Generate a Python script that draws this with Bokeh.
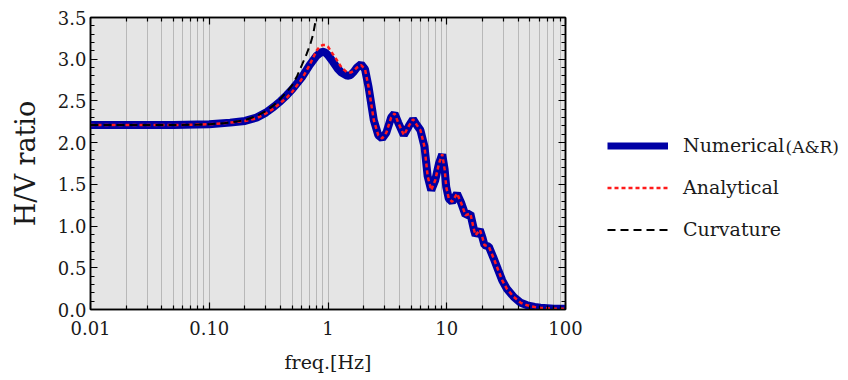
from bokeh.plotting import figure
from bokeh.layouts import row
from bokeh.models import (FixedTicker, LogAxis, LinearAxis, Legend, LegendItem, Label, Range1d)
from bokeh.embed import file_html
from bokeh.resources import INLINE

# ---------------- data ----------------
freq = [0.01, 0.02, 0.05, 0.1, 0.15, 0.2, 0.25, 0.3, 0.35, 0.4, 0.45, 0.5, 0.6, 0.7, 0.8, 0.85,
        0.9, 0.95, 1.0, 1.1, 1.2, 1.3, 1.45, 1.55, 1.65, 1.75, 1.9, 2.05, 2.2, 2.43, 2.65, 2.86,
        3.1, 3.4, 3.63, 3.9, 4.35, 4.8, 5.2, 5.6, 6.0, 6.5, 6.9, 7.4, 8.0, 8.6, 9.16, 9.6, 9.9,
        10.4, 11.1, 12.2, 13.2, 14.4, 15.8, 17.0, 17.5, 19.0, 20.0, 20.8, 22.6, 24.9,
        27.0, 29.3, 32.0, 36.7, 42.0, 47.6, 55.0, 61.5, 80.0, 100.0]

numerical = [2.21, 2.21, 2.21, 2.22, 2.24, 2.26, 2.30, 2.36, 2.43, 2.50, 2.57, 2.64, 2.78, 2.93, 3.04, 3.07,
             3.09, 3.08, 3.05, 2.97, 2.89, 2.84, 2.80, 2.81, 2.85, 2.90, 2.94, 2.88, 2.66, 2.27, 2.09, 2.05,
             2.12, 2.30, 2.35, 2.24, 2.09, 2.20, 2.28, 2.21, 2.15, 1.95, 1.60, 1.43, 1.55, 1.75, 1.86, 1.68, 1.47,
             1.33, 1.29, 1.39, 1.28, 1.13, 1.15, 0.95, 0.89, 0.955, 0.86, 0.77, 0.755, 0.61,
             0.48, 0.35, 0.25, 0.15, 0.08, 0.05, 0.03, 0.02, 0.01, 0.01]

analytical = [2.21, 2.21, 2.21, 2.22, 2.24, 2.26, 2.29, 2.35, 2.41, 2.48, 2.54, 2.61, 2.76, 2.93, 3.10, 3.15,
              3.17, 3.17, 3.15, 3.06, 2.98, 2.90, 2.84, 2.84, 2.86, 2.90, 2.93, 2.88, 2.66, 2.27, 2.09, 2.05,
              2.12, 2.30, 2.35, 2.24, 2.09, 2.20, 2.28, 2.21, 2.15, 1.95, 1.60, 1.43, 1.55, 1.75, 1.86, 1.68, 1.47,
              1.33, 1.29, 1.39, 1.28, 1.13, 1.15, 0.95, 0.89, 0.955, 0.86, 0.77, 0.755, 0.61,
              0.48, 0.35, 0.25, 0.15, 0.08, 0.05, 0.03, 0.02, 0.01, 0.01]

curv_freq = [0.01, 0.05, 0.1, 0.15, 0.2, 0.25, 0.3, 0.35, 0.4, 0.45, 0.5, 0.55, 0.607, 0.66,
             0.71, 0.75, 0.786, 0.80]
curvature = [2.21, 2.21, 2.22, 2.24, 2.27, 2.32, 2.38, 2.45, 2.53, 2.61, 2.69, 2.80, 2.94, 3.06,
             3.18, 3.30, 3.46, 3.52]

x_major = [0.01, 0.1, 1, 10, 100]
x_major_labels = ["0.01", "0.10", "1", "10", "100"]
x_minor = [m * d for d in [0.01, 0.1, 1, 10] for m in range(2, 10)]
y_major = [0.0, 0.5, 1.0, 1.5, 2.0, 2.5, 3.0, 3.5]
y_minor = [i / 10 for i in range(0, 36)]

series_names = ["Numerical", "Analytical", "Curvature"]
name_suffix = "(A&R)"

FONT = "DejaVu Serif"
H = 376
W_MAIN = 590

BLUE = dict(line_color="#0000a5", line_width=8)
RED = dict(line_color="#ff1a1a", line_width=2.5, line_dash="4 3")
BLACK = dict(line_color="black", line_width=2, line_dash="8 5")

p = figure(width=W_MAIN, height=H, x_axis_type="log",
           x_range=Range1d(0.01, 100), y_range=Range1d(0, 3.5),
           output_backend="svg", toolbar_location=None,
           min_border_left=90, min_border_right=W_MAIN - 565, min_border_top=17, min_border_bottom=67)

p.background_fill_color = "#e5e5e5"
p.border_fill_color = "white"
p.outline_line_color = "black"
p.outline_line_width = 1.5

# grid
p.ygrid.grid_line_color = None
p.xgrid.ticker = FixedTicker(ticks=x_major, minor_ticks=x_minor)
p.xgrid.grid_line_color = "#b8b8b8"
p.xgrid.grid_line_width = 1
p.xgrid.minor_grid_line_color = "#b8b8b8"
p.xgrid.minor_grid_line_width = 1

def style_axis(ax, labels=True):
    ax.axis_line_color = "black"
    ax.axis_line_width = 1.5
    ax.major_tick_in = 7
    ax.major_tick_out = 0
    ax.minor_tick_in = 4
    ax.minor_tick_out = 0
    ax.major_tick_line_color = "black"
    ax.minor_tick_line_color = "black"
    ax.major_tick_line_width = 1.2
    ax.minor_tick_line_width = 1.2
    ax.major_label_text_font = FONT
    ax.major_label_text_color = "#1a1a1a"
    if labels:
        ax.major_label_text_font_size = "18px"
    else:
        ax.major_label_text_font_size = "2px"
        ax.major_label_text_alpha = 0
        ax.major_label_standoff = 0

xax = p.xaxis[0]
xax.ticker = FixedTicker(ticks=x_major, minor_ticks=x_minor)
xax.major_label_overrides = {v: s for v, s in zip(x_major, x_major_labels)}
style_axis(xax)
xax.major_label_standoff = 11
xax.axis_label = "freq.[Hz]"
xax.axis_label_text_font = FONT
xax.axis_label_text_font_size = "19px"
xax.axis_label_text_font_style = "normal"
xax.axis_label_text_color = "#1a1a1a"
xax.axis_label_standoff = 13

yax = p.yaxis[0]
yax.ticker = FixedTicker(ticks=y_major, minor_ticks=y_minor)
yax.major_label_overrides = {v: f"{v:.1f}" for v in y_major}
style_axis(yax)
yax.major_label_standoff = 4
yax.axis_label = "H/V ratio"
yax.axis_label_text_font = FONT
yax.axis_label_text_font_size = "27px"
yax.axis_label_text_font_style = "normal"
yax.axis_label_text_color = "#1a1a1a"
yax.axis_label_standoff = 14

top = LogAxis(ticker=FixedTicker(ticks=x_major, minor_ticks=x_minor))
style_axis(top, labels=False)
p.add_layout(top, "above")
right = LinearAxis(ticker=FixedTicker(ticks=y_major, minor_ticks=y_minor))
style_axis(right, labels=False)
p.add_layout(right, "right")

p.line(freq, numerical, **BLUE)
p.line(freq, analytical, **RED)
p.line(curv_freq, curvature, **BLACK)

# ---- legend panel (separate, axis-less figure to the right) ----
# its ranges lie outside the data, so its own copies of the lines stay out of view
lg = figure(width=250, height=H, x_range=Range1d(1000, 1001), y_range=Range1d(0, 3.5),
            output_backend="svg", toolbar_location=None, min_border=0)
lg.axis.visible = False
lg.grid.visible = False
lg.outline_line_color = None
lg.background_fill_color = "white"
lg.border_fill_color = "white"

k_num = lg.line(freq, numerical, line_color="#0000a5", line_width=7)
k_ana = lg.line(freq, analytical, **RED)
k_cur = lg.line(curv_freq, curvature, **BLACK)

legend = Legend(items=[LegendItem(label=series_names[0], renderers=[k_num]),
                       LegendItem(label=series_names[1], renderers=[k_ana]),
                       LegendItem(label=series_names[2], renderers=[k_cur])],
                location=(607 - W_MAIN, 69))
legend.border_line_color = None
legend.background_fill_alpha = 0
legend.padding = 0
legend.margin = 0
legend.spacing = 20
legend.glyph_width = 61
legend.glyph_height = 19
legend.label_height = 19
legend.label_standoff = 15
legend.label_text_font = FONT
legend.label_text_font_size = "19px"
legend.label_text_color = "#1a1a1a"
lg.add_layout(legend, "center")

lg.add_layout(Label(x=785 - W_MAIN, y=163, x_units="screen", y_units="screen", text=name_suffix,
                    text_font=FONT, text_font_size="17px", text_color="#1a1a1a",
                    text_baseline="middle"))

open("out.html", "w").write(file_html(row(p, lg), INLINE))
